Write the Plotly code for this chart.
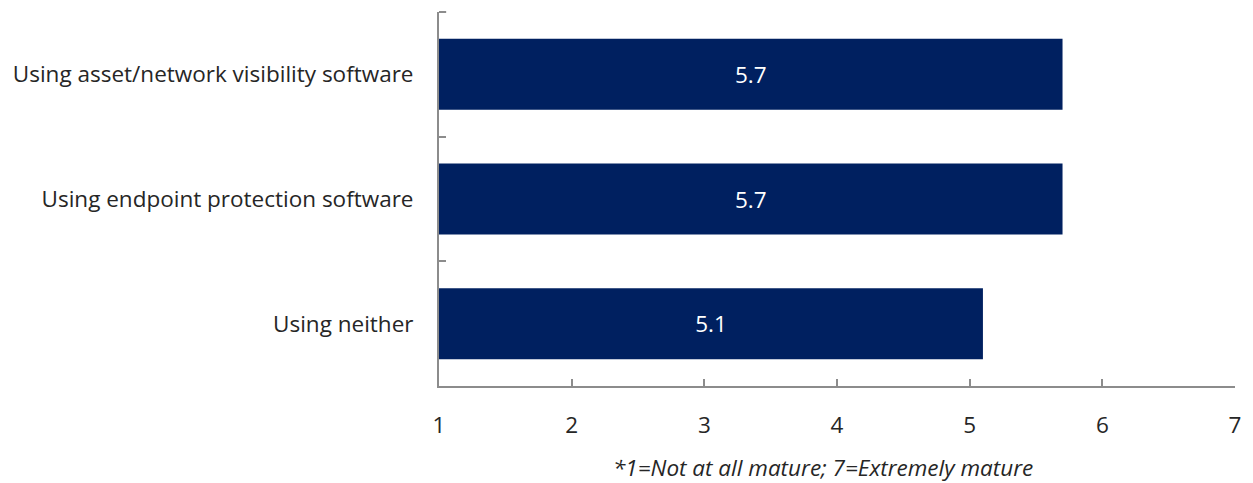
import plotly.graph_objects as go

# Maturity scores by software use (1-7 scale), listed bottom to top
categories = [
    "Using neither",
    "Using endpoint protection software",
    "Using asset/network visibility software",
]
scores = [5.1, 5.7, 5.7]
x_ticks = [1, 2, 3, 4, 5, 6, 7]

NAVY = "#002060"
AXIS_GRAY = "#8c8c8c"
TEXT = "#262626"
FONT = "Open Sans, Segoe UI, sans-serif"
SIZE = 22.5

fig = go.Figure(
    go.Bar(
        x=[v - 1 for v in scores],  # bars start at 1, so length is score - 1
        y=categories,
        base=1,
        orientation="h",
        marker=dict(color=NAVY, line=dict(width=0)),
        width=0.57,
        text=[f"{v:.1f}" for v in scores],
        textposition="inside",
        insidetextanchor="middle",
        textfont=dict(color="white", size=SIZE, family=FONT),
        hoverinfo="skip",
    )
)

fig.update_layout(
    width=1253,
    height=483,
    margin=dict(l=439, r=13, t=12, b=97),
    plot_bgcolor="white",
    paper_bgcolor="white",
    showlegend=False,
    font=dict(family=FONT, color=TEXT),
    xaxis=dict(
        range=[1, 7],
        tickvals=x_ticks,
        ticktext=[str(t) for t in x_ticks],
        showgrid=False,
        zeroline=False,
        showline=True,
        linecolor=AXIS_GRAY,
        linewidth=2,
        ticks="inside",
        ticklen=7,
        tickwidth=2,
        tickcolor=AXIS_GRAY,
        tickfont=dict(size=SIZE, color=TEXT),
        ticklabelstandoff=18,
    ),
    yaxis=dict(
        range=[-0.5, 2.5],
        categoryorder="array",
        categoryarray=categories,
        showgrid=False,
        zeroline=False,
        showline=True,
        linecolor=AXIS_GRAY,
        linewidth=2,
        ticks="inside",
        tickson="boundaries",
        ticklen=7,
        tickwidth=2,
        tickcolor=AXIS_GRAY,
        tickfont=dict(size=SIZE, color=TEXT),
        ticklabelstandoff=19,
    ),
    # boundary tick at the top end of the category axis
    shapes=[
        dict(
            type="line",
            xref="paper",
            yref="paper",
            x0=0,
            x1=0.009,
            y0=1,
            y1=1,
            line=dict(color=AXIS_GRAY, width=2),
        )
    ],
    annotations=[
        dict(
            text="<i>*1=Not at all mature; 7=Extremely mature</i>",
            xref="paper",
            yref="paper",
            x=0.483,
            y=-0.219,
            xanchor="center",
            yanchor="middle",
            showarrow=False,
            font=dict(size=SIZE, color=TEXT, family=FONT),
        )
    ],
)

fig.write_html("out.html")
